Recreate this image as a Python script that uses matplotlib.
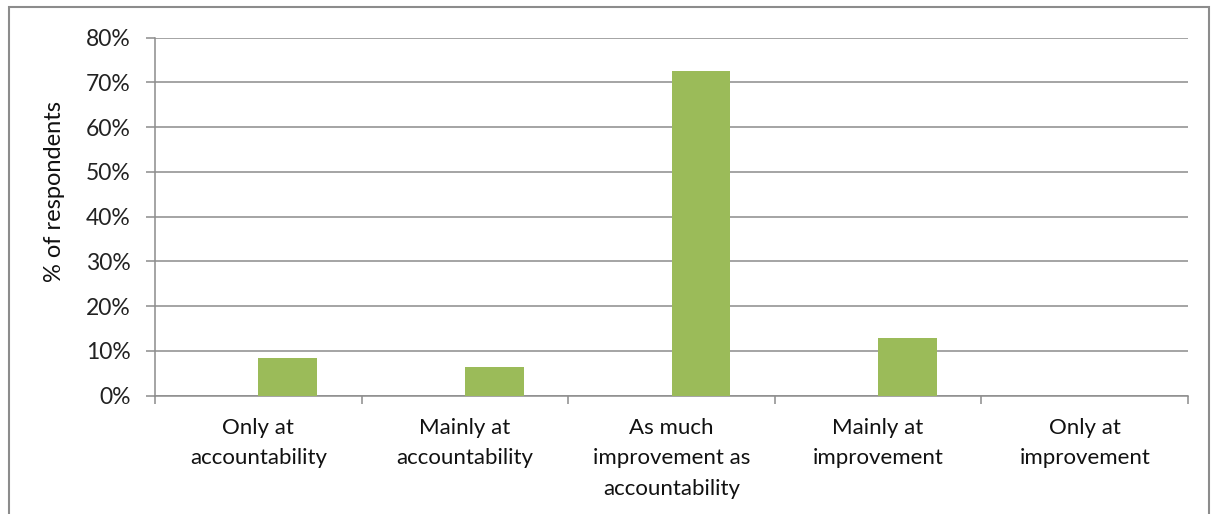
import matplotlib
matplotlib.use("Agg")
import matplotlib.pyplot as plt
from matplotlib.patches import Rectangle
from matplotlib.ticker import FixedLocator, PercentFormatter

categories = [
    "Only at\naccountability",
    "Mainly at\naccountability",
    "As much\nimprovement as\naccountability",
    "Mainly at\nimprovement",
    "Only at\nimprovement",
]
share = [8.5, 6.5, 72.5, 12.8, 0.0]
y_ticks = [0, 10, 20, 30, 40, 50, 60, 70, 80]

W, H = 1217, 514
plt.rcParams["font.family"] = ["Lato", "DejaVu Sans"]

fig = plt.figure(figsize=(W / 100, H / 100), dpi=100)
ax = fig.add_axes([155 / W, 1 - 395.7 / H, (1188 - 155) / W, (395.7 - 37.7) / H])

# bars sit in the right half of each category slot (Excel gap width 150%)
bar_w = 0.284
xs = [i + 0.5 for i in range(len(categories))]
ax.bar(xs, share, width=bar_w, align="edge", color="#9BBB59", zorder=3)

ax.set_xlim(0, len(categories))
ax.set_ylim(0, 80)
ax.set_yticks(y_ticks)
ax.yaxis.set_major_formatter(PercentFormatter(decimals=0))
ax.grid(axis="y", color="#8c8c8c", linewidth=1.1, zorder=0)

# category boundaries get the tick marks, labels go in the middle
ax.xaxis.set_major_locator(FixedLocator(range(len(categories) + 1)))
ax.set_xticklabels([])
ax.xaxis.set_minor_locator(FixedLocator([i + 0.5 for i in range(len(categories))]))
ax.set_xticklabels(categories, minor=True, linespacing=1.65)
ax.tick_params(axis="x", which="major", length=6, width=1.1, color="#8c8c8c")
ax.tick_params(axis="x", which="minor", length=0, pad=16, labelsize=16, labelcolor="#111111")
ax.tick_params(axis="y", length=6.5, width=1.1, color="#8c8c8c", pad=11,
               labelsize=16.5, labelcolor="#222222")

for side in ("top", "right"):
    ax.spines[side].set_visible(False)
for side in ("left", "bottom"):
    ax.spines[side].set_color("#8c8c8c")
    ax.spines[side].set_linewidth(1.1)

fig.text(55 / W, 1 - 191 / H, "% of respondents", rotation=90, ha="center",
         va="center", fontsize=17, color="#111111")

# chart area frame
fig.patches.append(Rectangle((9 / W, -0.05), (1209 - 9) / W, 1.05 - 7 / H,
                             transform=fig.transFigure, fill=False,
                             edgecolor="#8c8c8c", linewidth=1.5))

fig.savefig("out.png", dpi=100)
